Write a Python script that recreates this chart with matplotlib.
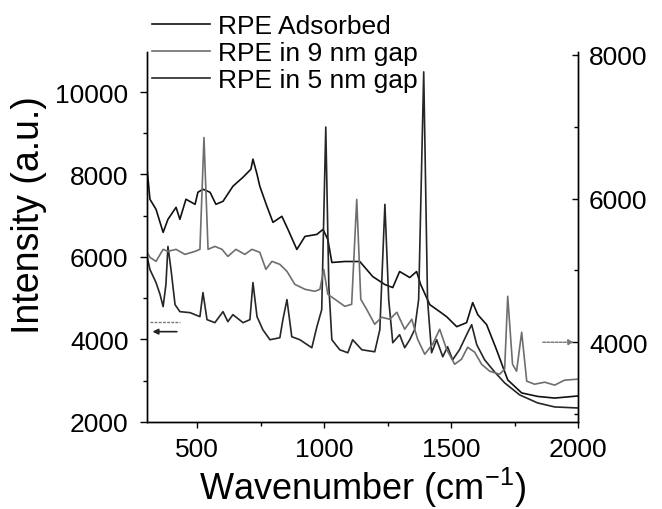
import matplotlib
matplotlib.use("Agg")
import matplotlib.pyplot as plt
from matplotlib.ticker import MultipleLocator

plt.rcParams['font.family'] = ['Liberation Sans', 'DejaVu Sans']
plt.rcParams['mathtext.fontset'] = 'custom'
plt.rcParams['mathtext.rm'] = 'Liberation Sans'
plt.rcParams['mathtext.it'] = 'Liberation Sans'

# ---- data ----
adsorbed_wn = [300, 313, 337, 365, 384, 416, 431, 455, 491, 502, 522, 550, 573, 601, 640,
               680, 711, 719, 735, 746, 774, 798, 833, 857, 892, 924, 971, 995, 1014, 1030,
               1081, 1140, 1191, 1239, 1270, 1297, 1337, 1364, 1380, 1416, 1455, 1482, 1522,
               1561, 1585, 1605, 1640, 1679, 1723, 1778, 1841, 1908, 1998]
adsorbed_val = [8250, 7400, 7156, 6597, 6913, 7204, 6913, 7400, 7277, 7569, 7642, 7569, 7277,
                7350, 7715, 7934, 8129, 8372, 8007, 7715, 7229, 6840, 6986, 6669, 6183, 6499,
                6548, 6669, 6426, 5867, 5891, 5891, 5526, 5332, 5259, 5648, 5502, 5648, 5332,
                4845, 4675, 4554, 4311, 4408, 4894, 4602, 4359, 3751, 3021, 2705, 2620, 2580,
                2630]

gap9_wn = [300, 313, 337, 365, 384, 416, 451, 491, 510, 526, 542, 569, 597, 620, 652, 687,
           715, 746, 770, 794, 825, 853, 884, 924, 963, 983, 998, 1014, 1042, 1081, 1108,
           1128, 1144, 1167, 1199, 1226, 1258, 1286, 1317, 1345, 1368, 1396, 1427, 1455,
           1482, 1514, 1541, 1565, 1593, 1620, 1652, 1691, 1711, 1723, 1742, 1758, 1778,
           1798, 1829, 1869, 1908, 1947, 1998]
gap9_val = [5265, 5182, 5126, 5293, 5265, 5293, 5223, 5265, 5293, 6850, 5293, 5334, 5293,
            5195, 5293, 5223, 5293, 5251, 5015, 5126, 5084, 4987, 4806, 4737, 4709, 4737,
            5015, 4667, 4598, 4500, 4528, 5988, 4598, 4459, 4250, 4348, 4320, 4417, 4181,
            4320, 4042, 3833, 3972, 4181, 3903, 3694, 3764, 3930, 3861, 3694, 3597, 3555,
            3625, 4640, 3694, 3597, 4139, 3458, 3416, 3444, 3403, 3472, 3486]

gap5_wn = [300, 313, 337, 353, 365, 376, 384, 396, 412, 431, 471, 510, 522, 538, 569, 601,
           620, 640, 680, 707, 719, 735, 758, 786, 825, 837, 853, 872, 904, 951, 971, 990,
           1006, 1018, 1030, 1061, 1093, 1112, 1148, 1199, 1219, 1239, 1254, 1270, 1297,
           1317, 1337, 1356, 1372, 1392, 1407, 1423, 1443, 1467, 1486, 1506, 1533, 1565,
           1581, 1601, 1632, 1671, 1711, 1770, 1841, 1908, 1998]
gap5_val = [6061, 5697, 5380, 5089, 4797, 5332, 6256, 5697, 4845, 4675, 4651, 4554, 5137,
            4481, 4408, 4675, 4432, 4602, 4408, 4481, 5380, 4554, 4237, 3994, 4043, 4481,
            4967, 4067, 3994, 3800, 4310, 4724, 9150, 5300, 3994, 3751, 3678, 3994, 3751,
            3702, 4237, 7277, 4967, 3921, 4116, 3800, 3994, 4237, 4967, 10487, 4967, 3678,
            3994, 3581, 3824, 3508, 3751, 4165, 4359, 3873, 3508, 3216, 2948, 2657, 2462,
            2365, 2340]

labels = ["RPE Adsorbed", "RPE in 9 nm gap", "RPE in 5 nm gap"]
x_ticks = [500, 1000, 1500, 2000]
left_ticks = [2000, 4000, 6000, 8000, 10000]
right_ticks = [4000, 6000, 8000]

# ---- figure ----
fig = plt.figure(figsize=(6.62, 5.1), dpi=100)
ax = fig.add_axes([0.2215, 0.1706, 0.6516, 0.7255])
ax2 = ax.twinx()

l1, = ax.plot(adsorbed_wn, adsorbed_val, color='#111111', lw=1.2, label=labels[0])
l2, = ax2.plot(gap9_wn, gap9_val, color='#6e6e6e', lw=1.2, label=labels[1])
l3, = ax.plot(gap5_wn, gap5_val, color='#262626', lw=1.2, label=labels[2])

ax.set_xlim(300, 2000)
ax.set_ylim(2000, 10970)
ax2.set_ylim(2890, 8040)

ax.set_xticks(x_ticks)
ax.xaxis.set_minor_locator(MultipleLocator(250))
ax.set_yticks(left_ticks)
ax.yaxis.set_minor_locator(MultipleLocator(1000))
ax2.set_yticks(right_ticks)
ax2.yaxis.set_minor_locator(MultipleLocator(1000))

for a in (ax, ax2):
    a.spines['top'].set_visible(False)
    for s in a.spines.values():
        s.set_linewidth(1.0)

ax.tick_params(axis='x', which='major', direction='out', length=4, width=1, labelsize=19, pad=6.5)
ax.tick_params(axis='x', which='minor', direction='out', length=3, width=1)
ax.tick_params(axis='y', which='major', direction='out', length=5, width=1, labelsize=19, pad=8)
ax.tick_params(axis='y', which='minor', direction='out', length=3, width=1)
ax2.tick_params(axis='y', which='major', direction='in', length=4, width=1, labelsize=19, pad=8)
ax2.tick_params(axis='y', which='minor', direction='in', length=3, width=1)

ax.set_xlabel("Wavenumber (cm$^{-1}$)", fontsize=26, labelpad=3)
ax.set_ylabel("Intensity (a.u.)", fontsize=27)
ax.yaxis.set_label_coords(-0.231, 0.562)

# axis-indicator arrows
ax.annotate("", xy=(312, 4190), xytext=(430, 4190),
            arrowprops=dict(arrowstyle='-|>', color='#222222', lw=1.2, mutation_scale=8))
ax.plot([312, 432], [4430, 4430], color='#777777', lw=1.0, ls=(0, (2, 1)))
ax2.annotate("", xy=(1995, 4000), xytext=(1850, 4000),
             arrowprops=dict(arrowstyle='-|>', color='#777777', lw=1.0, ls=(0, (2, 1)),
                             mutation_scale=8))

fig.legend(handles=[l1, l2, l3], loc='upper left', bbox_to_anchor=(0.2296, 0.971),
           frameon=False, fontsize=19, handlelength=2.2, handletextpad=0.3,
           labelspacing=0.12, borderpad=0, borderaxespad=0)

fig.savefig("out.png", dpi=100)
